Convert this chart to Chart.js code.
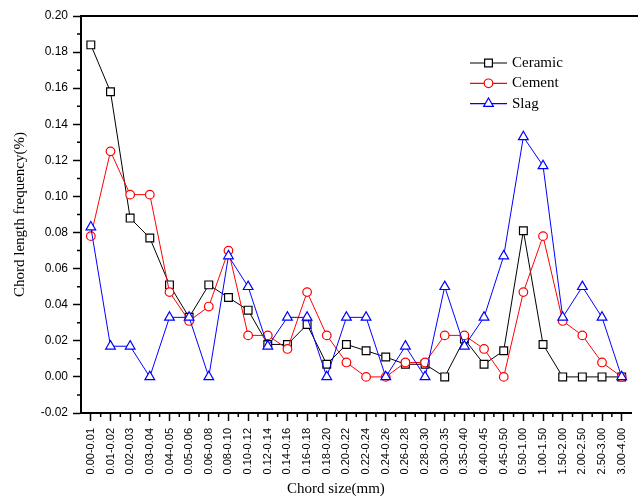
<!DOCTYPE html>
<html>
<head>
<meta charset="utf-8">
<script src="https://cdn.jsdelivr.net/npm/chart.js@4/dist/chart.umd.min.js"></script>
<style>
  html, body { margin: 0; padding: 0; background: #fff; overflow: hidden; }
  canvas { display: block; }
</style>
</head>
<body>
<canvas id="chart" width="642" height="498"></canvas>
<script>
const sizes = ["0.00-0.01", "0.01-0.02", "0.02-0.03", "0.03-0.04", "0.04-0.05", "0.05-0.06",
    "0.06-0.08", "0.08-0.10", "0.10-0.12", "0.12-0.14", "0.14-0.16", "0.16-0.18", "0.18-0.20",
    "0.20-0.22", "0.22-0.24", "0.24-0.26", "0.26-0.28", "0.28-0.30", "0.30-0.35", "0.35-0.40",
    "0.40-0.45", "0.45-0.50", "0.50-1.00", "1.00-1.50", "1.50-2.00", "2.00-2.50", "2.50-3.00",
    "3.00-4.00"];
const ceramic = [0.184, 0.158, 0.088, 0.077, 0.051, 0.033, 0.051, 0.044, 0.037, 0.018, 0.018, 0.029,
    0.007, 0.018, 0.0145, 0.011, 0.007, 0.007, 0, 0.021, 0.007, 0.0145, 0.081, 0.018, 0, 0, 0, 0];
const cement = [0.078, 0.125, 0.101, 0.101, 0.047, 0.031, 0.039, 0.070, 0.023, 0.023, 0.0155, 0.047,
    0.023, 0.008, 0, 0, 0.008, 0.008, 0.023, 0.023, 0.0155, 0, 0.047, 0.078, 0.031, 0.023, 0.008, 0];
const slag = [0.083, 0.017, 0.017, 0, 0.033, 0.033, 0, 0.067, 0.050, 0.017, 0.033, 0.033,
    0, 0.033, 0.033, 0, 0.017, 0, 0.050, 0.017, 0.033, 0.067, 0.133, 0.117, 0.033, 0.050, 0.033, 0];
const yTicks = [-0.02, 0, 0.02, 0.04, 0.06, 0.08, 0.10, 0.12, 0.14, 0.16, 0.18, 0.20];

const serif = "'Liberation Serif', 'Times New Roman', serif";
const sans = "'Liberation Sans', Arial, sans-serif";

const series = (label, data, color, pointStyle, pointRadius, order) => ({
    label, data, order,
    borderColor: color,
    borderWidth: 1,
    pointStyle,
    pointRadius,
    pointBorderWidth: 1.2,
    pointBorderColor: color,
    pointBackgroundColor: "#fff",
    tension: 0
});

// minor ticks, top frame line, x title and the line+marker legend
const extras = {
    id: "extras",
    afterDraw(chart) {
        const {ctx, chartArea: area, scales: {x, y}} = chart;
        ctx.save();
        ctx.strokeStyle = "#000";
        ctx.lineWidth = 1.5;
        ctx.beginPath();
        for (let i = 0; i < sizes.length - 1; i++) {
            const px = x.getPixelForValue(i + 0.5);
            ctx.moveTo(px, area.bottom);
            ctx.lineTo(px, area.bottom + 4);
        }
        for (let i = 0; i < yTicks.length - 1; i++) {
            const py = y.getPixelForValue((yTicks[i] + yTicks[i + 1]) / 2);
            ctx.moveTo(area.left, py);
            ctx.lineTo(area.left - 4, py);
        }
        ctx.stroke();

        ctx.lineWidth = 2;
        ctx.beginPath();
        ctx.moveTo(area.left, area.top);
        ctx.lineTo(chart.width, area.top);
        ctx.stroke();

        ctx.fillStyle = "#000";
        ctx.font = "15px " + serif;
        ctx.textAlign = "center";
        ctx.textBaseline = "middle";
        ctx.fillText("Chord size(mm)", area.left + area.width * 0.463, area.bottom + 76);

        ctx.textAlign = "left";
        const lx = area.left + 389, ly = area.top + 47;
        chart.data.datasets.forEach((ds, i) => {
            const cy = ly + i * 20.3;
            ctx.strokeStyle = ds.borderColor;
            ctx.lineWidth = 1.2;
            ctx.beginPath();
            ctx.moveTo(lx, cy);
            ctx.lineTo(lx + 37, cy);
            ctx.stroke();
            ctx.fillStyle = "#fff";
            Chart.helpers.drawPoint(ctx, {
                pointStyle: ds.pointStyle, radius: ds.pointRadius, rotation: 0, borderWidth: 1.2
            }, lx + 18.5, cy);
            ctx.fillStyle = "#000";
            ctx.fillText(ds.label, lx + 42, cy);
        });
        ctx.restore();
    }
};

new Chart("chart", {
    type: "line",
    data: {
        labels: sizes,
        datasets: [
            series("Ceramic", ceramic, "#000000", "rect", 5.5, 2),
            series("Cement", cement, "#ff0000", "circle", 4.3, 1),
            series("Slag", slag, "#0000ff", "triangle", 5.6, 0)
        ]
    },
    options: {
        responsive: false,
        animation: false,
        events: [],
        layout: {padding: {top: 16, right: 2, left: 0, bottom: 0}},
        plugins: {legend: {display: false}, tooltip: {enabled: false}},
        scales: {
            x: {
                type: "category",
                offset: true,
                grid: {offset: false, drawOnChartArea: false, tickLength: 8, tickColor: "#000", tickWidth: 1.5},
                border: {color: "#000", width: 2},
                ticks: {
                    autoSkip: false, minRotation: 90, maxRotation: 90, padding: 7,
                    color: "#000", font: {family: sans, size: 11}
                },
                afterFit: scale => { scale.height = 85; }
            },
            y: {
                min: -0.02,
                max: 0.20,
                afterBuildTicks: scale => { scale.ticks = yTicks.map(value => ({value})); },
                grid: {drawOnChartArea: false, tickLength: 8, tickColor: "#000", tickWidth: 1.5},
                border: {color: "#000", width: 2},
                ticks: {
                    padding: 5, color: "#000", font: {family: sans, size: 12},
                    callback: v => v.toFixed(2)
                },
                title: {
                    display: true, text: "Chord length frequency(%)", color: "#000",
                    font: {family: serif, size: 15}, padding: {top: 11, bottom: 0}
                },
                afterFit: scale => { scale.width = 81; }
            }
        }
    },
    plugins: [extras]
});
</script>
</body>
</html>
